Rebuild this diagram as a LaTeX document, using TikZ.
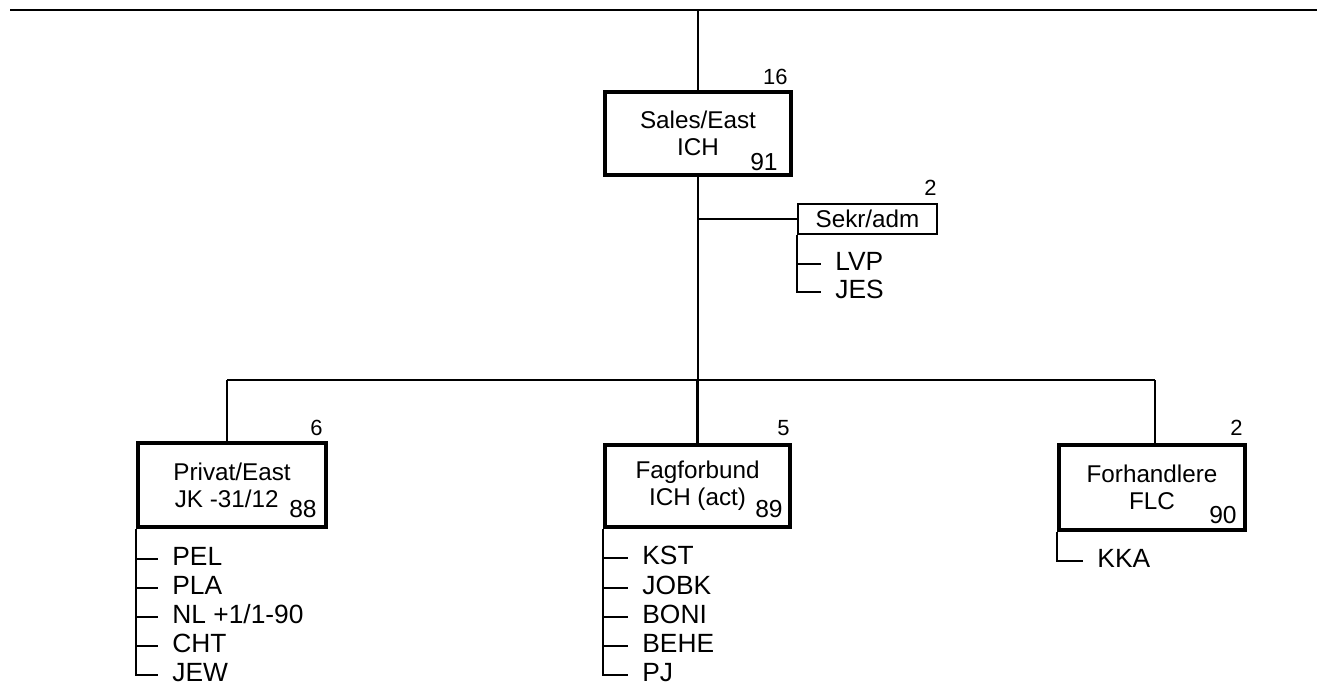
\documentclass[tikz,border=0pt]{standalone}
\usepackage{fontspec}
\setmainfont{Liberation Sans}
\usetikzlibrary{positioning,calc}
\tikzset{
  unitbox/.style={draw=black,line width=2.3pt,align=center,inner sep=2pt,
                  font=\fontsize{13.8pt}{15.3pt}\selectfont},
  staffbox/.style={draw=black,line width=1.2pt,align=center,inner sep=2pt,
                   font=\fontsize{13.8pt}{15.3pt}\selectfont},
  headcount/.style={anchor=base east,inner sep=0pt,
                    font=\fontsize{12.5pt}{14pt}\selectfont},
  yearno/.style={anchor=base east,inner sep=0pt,
                 font=\fontsize{14pt}{16pt}\selectfont},
  member/.style={anchor=west,inner xsep=8pt,inner ysep=0pt,text height=0.72em,
                 text depth=0pt,font=\fontsize{15pt}{17pt}\selectfont},
  link/.style={line width=1.3pt,draw=black},
  tick/.style={line width=1pt,draw=black}
}

\begin{document}
\begin{tikzpicture}[x=0.02cm,y=-0.02cm]
    \useasboundingbox (0,0) rectangle (1317,697);
    \coordinate (ruleL) at (10,10);
    \coordinate (ruleR) at (1317,10);
    \coordinate (busL) at (227,380);
    \coordinate (busR) at (1155,380);
    \draw[link,line width=1.5pt] (ruleL) -- (ruleR);
    % head and staff
    \node[unitbox,minimum width=3.72cm,minimum height=1.66cm] (sales) at (698,133.5)
      {Sales/East\\ICH};
    \node[headcount] (salesN) at (788,84) {16};
    \node[yearno] (salesY) at (778,170) {91};
    \node[staffbox,minimum width=2.78cm,minimum height=0.60cm] (sekr) at (867.5,219)
      {Sekr/adm};
    \node[headcount] (sekrN) at (937,195) {2};
    \node[member] (lvp) at (821,264) {LVP};
    \node[member] (jes) at (821,292) {JES};
    % three units
    \node[unitbox,minimum width=3.76cm,minimum height=1.68cm] (privat) at (232,485)
      {Privat/East\\JK -31/12\hspace*{6pt}};
    \node[headcount] (privatN) at (323,435) {6};
    \node[yearno] (privatY) at (317,517) {88};
    \node[unitbox,minimum width=3.70cm,minimum height=1.64cm] (fag) at (697.5,486)
      {Fagforbund\\ICH (act)};
    \node[headcount] (fagN) at (790,435) {5};
    \node[yearno] (fagY) at (783,517) {89};
    \node[unitbox,minimum width=3.72cm,minimum height=1.70cm] (forh) at (1152,487.5)
      {Forhandlere\\FLC};
    \node[headcount] (forhN) at (1243,435) {2};
    \node[yearno] (forhY) at (1237,523) {90};
    \foreach \name/\txt/\y in {pel/PEL/559,pla/PLA/588,nl/{NL +1/1-90}/617,
                               cht/CHT/646,jew/JEW/675}
      \node[member] (\name) at (158,\y) {\txt};
    \foreach \name/\txt/\y in {kst/KST/558,jobk/JOBK/588,boni/BONI/617,
                               behe/BEHE/646,pj/PJ/675}
      \node[member] (\name) at (628,\y) {\txt};
    \node[member] (kka) at (1083,561) {KKA};
    % connectors
    \draw[link] (ruleL -| sales.north) -- (sales.north);
    \draw[link] (sales.south) -- (sales.south |- busL);
    \draw[link] (sales.south |- sekr.west) -- (sekr.west);
    \draw[link] (busL) -- (busR);
    \draw[link] (busL) -- (busL |- privat.north);
    \draw[link] (fag.north |- busL) -- (fag.north);
    \draw[link] (busR) -- (busR |- forh.north);
    \draw[tick] (sekr.south west) |- (jes.west);
    \draw[tick] (sekr.south west |- lvp.west) -- (lvp.west);
    \draw[tick] (privat.south west) |- (jew.west);
    \foreach \name in {pel,pla,nl,cht}
      \draw[tick] (privat.south west |- \name.west) -- (\name.west);
    \draw[tick] (fag.south west) |- (pj.west);
    \foreach \name in {kst,jobk,boni,behe}
      \draw[tick] (fag.south west |- \name.west) -- (\name.west);
    \draw[tick] (forh.south west) |- (kka.west);
  \end{tikzpicture}
\end{document}
